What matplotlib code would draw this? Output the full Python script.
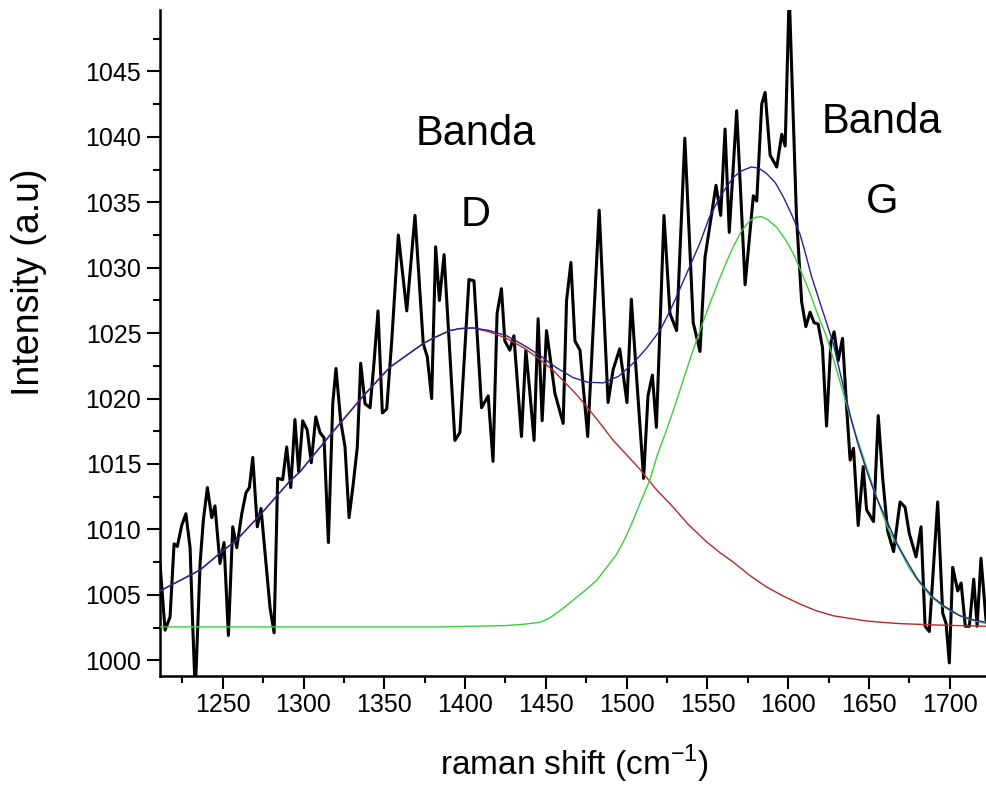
import matplotlib
matplotlib.use('Agg')
import matplotlib.pyplot as plt
from matplotlib.ticker import MultipleLocator

plt.rcParams['font.family'] = ['Liberation Sans', 'DejaVu Sans']
plt.rcParams['mathtext.fontset'] = 'custom'
plt.rcParams['mathtext.rm'] = 'Liberation Sans'

# measured spectrum (raman shift, intensity)
shift = [1211.2, 1214.3, 1217.4, 1219.9, 1221.9, 1224.6, 1227.2, 1229.8, 1231.4, 1233.0,
         1236.0, 1238.0, 1240.5, 1243.2, 1245.2, 1248.3, 1250.8, 1253.5, 1256.2, 1258.7,
         1261.8, 1264.4, 1266.5, 1268.6, 1271.4, 1273.7, 1279.3, 1281.8, 1284.0, 1287.1,
         1289.6, 1292.1, 1294.7, 1297.0, 1299.5, 1302.3, 1304.8, 1307.6, 1310.2, 1312.7,
         1315.4, 1318.1, 1320.1, 1323.0, 1325.7, 1328.2, 1330.8, 1333.3, 1335.4, 1338.1,
         1341.2, 1343.6, 1346.1, 1348.8, 1351.5, 1354.6, 1358.7, 1363.9, 1369.0, 1374.1,
         1376.6, 1379.3, 1381.8, 1384.1, 1387.0, 1393.7, 1396.8, 1402.4, 1405.5, 1410.2,
         1414.3, 1417.3, 1419.8, 1422.5, 1424.6, 1427.7, 1430.2, 1434.9, 1437.6, 1440.0,
         1442.7, 1445.2, 1447.7, 1450.4, 1455.6, 1460.7, 1462.8, 1465.5, 1468.0, 1471.1,
         1475.9, 1483.0, 1488.5, 1491.6, 1495.7, 1500.2, 1502.9, 1506.0, 1510.5, 1513.2,
         1515.9, 1518.4, 1523.1, 1526.8, 1530.9, 1536.0, 1541.2, 1545.4, 1548.5, 1555.3,
         1558.2, 1560.9, 1563.5, 1568.1, 1573.3, 1578.4, 1580.5, 1583.6, 1585.7, 1588.8,
         1592.9, 1596.0, 1598.1, 1600.6, 1605.1, 1608.3, 1610.9, 1613.5, 1616.0, 1618.5,
         1621.2, 1623.7, 1626.4, 1628.4, 1630.9, 1633.6, 1636.1, 1638.3, 1640.4, 1643.3,
         1646.4, 1648.5, 1652.8, 1655.7, 1658.4, 1661.5, 1665.2, 1669.2, 1672.3, 1674.9,
         1679.1, 1682.2, 1684.7, 1687.3, 1692.5, 1695.6, 1697.7, 1699.7, 1701.8, 1704.9,
         1707.0, 1709.6, 1712.1, 1714.8, 1716.9, 1719.3, 1722.4]
intensity = [1007.4, 1002.3, 1003.3, 1008.9, 1008.7, 1010.3, 1011.2, 1008.6, 1002.8, 997.5,
             1007.4, 1010.7, 1013.2, 1010.9, 1011.8, 1007.4, 1009.0, 1001.9, 1010.2, 1008.6,
             1011.2, 1012.8, 1013.2, 1015.5, 1010.2, 1011.6, 1004.0, 1002.1, 1013.9, 1013.8,
             1016.3, 1013.2, 1018.4, 1014.4, 1018.3, 1017.6, 1015.1, 1018.6, 1017.4, 1017.0,
             1009.0, 1019.6, 1022.3, 1018.3, 1016.3, 1010.9, 1013.5, 1016.3, 1022.7, 1019.6,
             1019.3, 1022.7, 1026.7, 1018.9, 1019.2, 1024.4, 1032.5, 1026.7, 1034.0, 1024.2,
             1023.2, 1020.0, 1031.6, 1027.5, 1031.0, 1016.8, 1017.4, 1029.1, 1029.0, 1019.3,
             1020.2, 1015.2, 1026.5, 1028.4, 1024.4, 1023.7, 1024.8, 1017.1, 1023.7, 1020.6,
             1016.8, 1026.1, 1018.3, 1025.2, 1020.4, 1018.1, 1027.5, 1030.4, 1024.4, 1023.7,
             1017.1, 1034.4, 1019.7, 1022.2, 1023.8, 1019.7, 1027.6, 1021.9, 1013.9, 1020.2,
             1021.8, 1017.8, 1034.0, 1026.5, 1025.2, 1039.9, 1025.8, 1023.6, 1030.8, 1036.3,
             1034.0, 1040.6, 1032.7, 1042.0, 1028.7, 1035.5, 1035.1, 1042.5, 1043.4, 1038.6,
             1037.7, 1040.2, 1039.3, 1051.0, 1033.9, 1027.4, 1025.5, 1026.6, 1025.8, 1025.7,
             1023.9, 1017.9, 1024.3, 1025.1, 1022.9, 1024.6, 1019.4, 1015.3, 1016.2, 1010.3,
             1014.8, 1011.5, 1010.6, 1018.7, 1014.0, 1009.9, 1008.3, 1012.1, 1011.7, 1009.7,
             1007.9, 1010.2, 1002.6, 1002.2, 1012.1, 1003.6, 1002.8, 999.8, 1007.1, 1005.3,
             1005.9, 1002.6, 1002.6, 1006.2, 1002.6, 1007.8, 1003.1]

# fitted D band (red)
d_shift = [1211.2, 1236.0, 1249.4, 1258.7, 1273.1, 1291.6, 1297.8, 1316.4, 1337.0, 1353.5,
           1374.0, 1380.0, 1390.6, 1397.0, 1405.0, 1415.0, 1425.7, 1436.0, 1446.3, 1455.0,
           1462.8, 1469.0, 1475.2, 1483.0, 1491.7, 1500.0, 1508.2, 1518.0, 1528.8, 1538.0,
           1549.0, 1558.0, 1566.0, 1576.0, 1586.6, 1597.0, 1607.2, 1617.0, 1627.9, 1638.0,
           1648.5, 1658.0, 1669.2, 1680.0, 1689.7, 1705.0, 1722.4]
d_fit = [1005.3, 1006.9, 1008.3, 1009.2, 1011.1, 1013.7, 1014.4, 1017.2, 1020.2, 1022.4,
         1024.2, 1024.6, 1025.2, 1025.35, 1025.4, 1025.1, 1024.6, 1023.9, 1023.0, 1022.1,
         1021.1, 1020.3, 1019.4, 1018.2, 1016.8, 1015.7, 1014.6, 1013.1, 1011.7, 1010.4,
         1009.1, 1008.2, 1007.5, 1006.5, 1005.6, 1004.9, 1004.3, 1003.8, 1003.4, 1003.2,
         1003.0, 1002.9, 1002.8, 1002.75, 1002.7, 1002.65, 1002.6]

# fitted G band (green)
g_shift = [1211.2, 1300.0, 1384.5, 1425.7, 1436.0, 1446.3, 1452.0, 1461.0, 1466.9, 1473.0,
           1481.4, 1487.0, 1493.8, 1499.0, 1504.0, 1509.0, 1514.4, 1519.0, 1524.7, 1530.0,
           1535.0, 1540.0, 1545.4, 1551.0, 1557.0, 1562.0, 1566.0, 1571.0, 1576.3, 1580.0,
           1583.5, 1587.0, 1592.8, 1598.0, 1603.1, 1608.0, 1613.0, 1618.0, 1623.8, 1629.0,
           1634.1, 1639.0, 1644.4, 1650.0, 1656.8, 1662.0, 1669.2, 1675.0, 1681.5, 1688.0,
           1695.9, 1703.0, 1710.4, 1716.0, 1722.4]
g_fit = [1002.55, 1002.55, 1002.55, 1002.65, 1002.75, 1002.9, 1003.2, 1004.0, 1004.6, 1005.2,
         1006.1, 1007.0, 1008.1, 1009.3, 1010.7, 1012.2, 1013.8, 1015.7, 1017.6, 1019.5,
         1021.4, 1023.3, 1025.2, 1027.1, 1029.0, 1030.5, 1031.6, 1032.8, 1033.6, 1033.85,
         1033.9, 1033.7, 1033.1, 1032.2, 1031.1, 1029.7, 1028.2, 1026.5, 1024.7, 1022.6,
         1020.4, 1018.3, 1016.3, 1014.2, 1011.7, 1010.0, 1008.4, 1007.0, 1005.9, 1004.9,
         1004.1, 1003.6, 1003.2, 1003.0, 1002.8]

# cumulative fit (blue)
s_shift = [1211.2, 1236.0, 1249.4, 1258.7, 1273.1, 1291.6, 1297.8, 1316.4, 1337.0, 1353.5,
           1374.0, 1380.0, 1390.6, 1397.0, 1405.0, 1415.0, 1425.7, 1436.0, 1446.3, 1456.0,
           1466.9, 1476.0, 1485.5, 1495.0, 1504.0, 1512.0, 1520.6, 1526.0, 1530.9, 1538.0,
           1545.4, 1551.0, 1557.7, 1562.0, 1566.0, 1571.0, 1577.2, 1582.0, 1586.6, 1592.0,
           1597.0, 1602.0, 1607.2, 1610.0, 1614.5, 1620.0, 1627.9, 1633.0, 1638.2, 1643.0,
           1648.5, 1654.0, 1660.9, 1667.0, 1673.3, 1680.0, 1689.7, 1697.0, 1706.2, 1714.0,
           1722.4]
s_fit = [1005.3, 1006.9, 1008.3, 1009.2, 1011.1, 1013.7, 1014.4, 1017.2, 1020.2, 1022.4,
         1024.2, 1024.6, 1025.2, 1025.35, 1025.4, 1025.2, 1024.8, 1024.1, 1023.3, 1022.4,
         1021.6, 1021.25, 1021.2, 1021.7, 1022.7, 1023.8, 1025.2, 1026.5, 1027.8, 1029.8,
         1031.9, 1033.8, 1035.4, 1036.2, 1036.9, 1037.4, 1037.7, 1037.6, 1037.2, 1036.5,
         1035.4, 1034.1, 1032.6, 1031.4, 1029.3, 1027.2, 1024.2, 1021.5, 1018.8, 1016.6,
         1014.5, 1012.6, 1010.7, 1009.0, 1007.6, 1006.2, 1004.8, 1004.1, 1003.4, 1003.1,
         1002.9]

fig = plt.figure(figsize=(9.86, 7.85), dpi=100)
ax = fig.add_axes([0.1623, 0.1389, 0.8377, 0.8484])

ax.plot(shift, intensity, color='black', lw=2.2, zorder=2)
ax.plot(d_shift, d_fit, color='#b52a2a', lw=1.0, zorder=3)
ax.plot(g_shift, g_fit, color='#3ccc3c', lw=1.0, zorder=3)
ax.plot(s_shift, s_fit, color='#22229a', lw=1.0, zorder=4)

ax.set_xlim(1211.2, 1722.4)
ax.set_ylim(998.8, 1049.7)

for side in ['top', 'right']:
    ax.spines[side].set_visible(False)
for side in ['left', 'bottom']:
    ax.spines[side].set_linewidth(1.8)

ax.xaxis.set_major_locator(MultipleLocator(50))
ax.xaxis.set_minor_locator(MultipleLocator(25))
ax.yaxis.set_major_locator(MultipleLocator(5))
ax.yaxis.set_minor_locator(MultipleLocator(2.5))
ax.tick_params(which='major', direction='out', length=9.5, width=1.5,
               labelsize=18, pad=3)
ax.tick_params(axis='y', which='major', pad=4)
ax.tick_params(which='minor', direction='out', length=5, width=1.5)

fig.text(0.583, 0.027, 'raman shift (cm$^{\\mathrm{-1}}$)', ha='center', va='center',
         fontsize=24)
fig.text(0.029, 0.64, 'Intensity (a.u)', rotation=90, ha='center', va='center',
         fontsize=27)

ax.text(1406.7, 1039.35, 'Banda', ha='center', va='baseline', fontsize=30)
ax.text(1406.7, 1033.2, 'D', ha='center', va='baseline', fontsize=30)
ax.text(1658.0, 1040.3, 'Banda', ha='center', va='baseline', fontsize=30)
ax.text(1658.0, 1034.15, 'G', ha='center', va='baseline', fontsize=30)

fig.savefig('out.png', dpi=100)
